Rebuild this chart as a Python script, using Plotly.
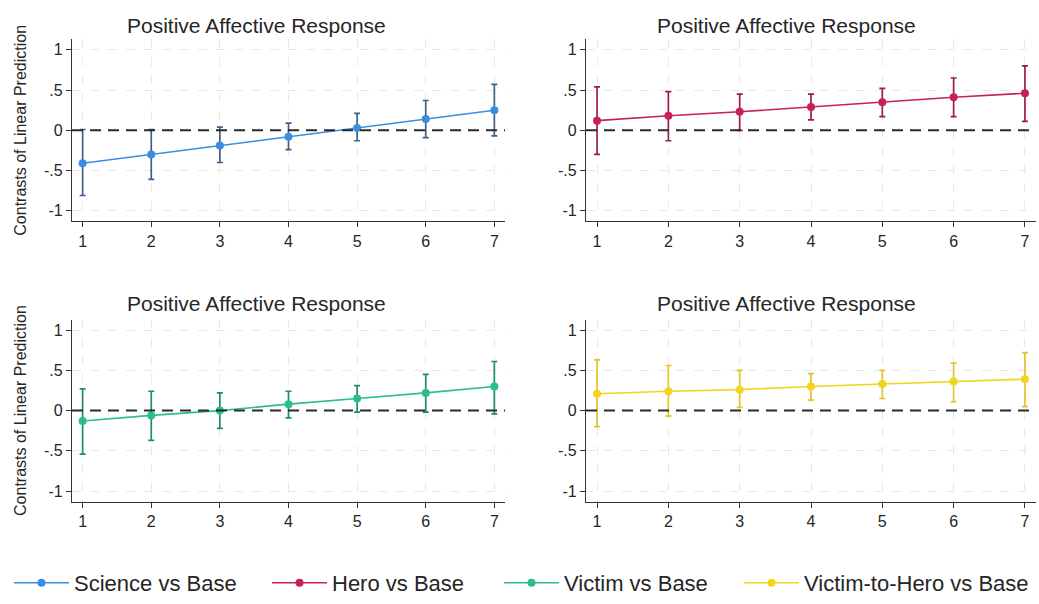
import plotly.graph_objects as go

# ---- data ----
x_levels = [1, 2, 3, 4, 5, 6, 7]
series_names = ["Science vs Base", "Hero vs Base", "Victim vs Base", "Victim-to-Hero vs Base"]
panel_title = "Positive Affective Response"
y_title = "Contrasts of Linear Prediction"
y_tick_vals = [-1, -0.5, 0, 0.5, 1]
y_tick_text = ["-1", "-.5", "0", ".5", "1"]

science_est = [-0.41, -0.30, -0.19, -0.08, 0.03, 0.14, 0.25]
science_lo = [-0.81, -0.61, -0.40, -0.24, -0.13, -0.09, -0.07]
science_hi = [0.01, 0.01, 0.04, 0.09, 0.21, 0.37, 0.57]

hero_est = [0.12, 0.18, 0.23, 0.29, 0.35, 0.41, 0.46]
hero_lo = [-0.30, -0.13, 0.00, 0.13, 0.17, 0.17, 0.11]
hero_hi = [0.54, 0.48, 0.45, 0.45, 0.52, 0.65, 0.80]

victim_est = [-0.13, -0.06, 0.00, 0.08, 0.15, 0.22, 0.30]
victim_lo = [-0.54, -0.37, -0.22, -0.09, -0.02, -0.02, -0.04]
victim_hi = [0.27, 0.24, 0.22, 0.24, 0.31, 0.45, 0.61]

vth_est = [0.21, 0.24, 0.26, 0.30, 0.33, 0.36, 0.39]
vth_lo = [-0.20, -0.07, 0.04, 0.13, 0.15, 0.11, 0.05]
vth_hi = [0.63, 0.56, 0.50, 0.46, 0.50, 0.59, 0.72]

# ---- styles ----
line_colors = ["#3a8ee0", "#c8205c", "#2bbd8e", "#f2d41f"]
bar_colors = ["#3f5f86", "#9c1d4c", "#1f8c6a", "#e2c52a"]
FONT = "Liberation Sans, Arial, Helvetica, sans-serif"
TXT = "#262626"

series = [
    (science_est, science_lo, science_hi),
    (hero_est, hero_lo, hero_hi),
    (victim_est, victim_lo, victim_hi),
    (vth_est, vth_lo, vth_hi),
]

W, H = 1039, 604
x_domains = [[72 / W, 505 / W], [586 / W, 1036 / W]]
y_domains = [[1 - 225 / H, 1 - 40 / H], [1 - 510 / H, 1 - 325 / H]]
legend_x_px = [9, 267, 499, 739]

fig = go.Figure()
layout = dict()
annotations = []
shapes = []

for i, (est, lo, hi) in enumerate(series):
    row, col = divmod(i, 2)
    n = "" if i == 0 else str(i + 1)
    xa, ya = "x" + n, "y" + n
    lg = "legend" + n
    fig.add_trace(go.Scatter(
        x=x_levels, y=est, xaxis=xa, yaxis=ya,
        mode="lines+markers", name=series_names[i], legend=lg,
        line=dict(color=line_colors[i], width=1.6),
        marker=dict(color=line_colors[i], size=8),
        error_y=dict(type="data", symmetric=False,
                     array=[h - e for h, e in zip(hi, est)],
                     arrayminus=[e - l for e, l in zip(est, lo)],
                     color=bar_colors[i], thickness=1.7, width=3),
    ))
    layout[lg] = dict(
        orientation="h", x=legend_x_px[i] / W, xanchor="left",
        y=11 / H, yanchor="middle", bgcolor="rgba(0,0,0,0)",
        font=dict(size=22, color=TXT, family=FONT), itemwidth=55,
    )
    layout["xaxis" + n] = dict(
        domain=x_domains[col], anchor=ya, range=[0.845, 7.155],
        tickvals=x_levels, ticks="outside", ticklen=5, tickcolor="#333",
        showline=True, linecolor="#333", linewidth=1.2,
        showgrid=True, gridcolor="#e8e8e8", griddash="dash", gridwidth=1,
        zeroline=False, tickfont=dict(size=16, color=TXT, family=FONT),
    )
    ydict = dict(
        domain=y_domains[row], anchor=xa, range=[-1.13, 1.13],
        tickvals=y_tick_vals, ticktext=y_tick_text,
        ticks="outside", ticklen=5, tickcolor="#333",
        showline=True, linecolor="#333", linewidth=1.2,
        showgrid=True, gridcolor="#e8e8e8", griddash="dash", gridwidth=1,
        zeroline=False, tickfont=dict(size=16, color=TXT, family=FONT),
    )
    if col == 0:
        ydict["title"] = dict(text=y_title, font=dict(size=16, color=TXT, family=FONT), standoff=13)
    layout["yaxis" + n] = ydict
    # reference line at zero
    shapes.append(dict(type="line", xref=xa + " domain", yref=ya,
                       x0=0, x1=1, y0=0, y1=0,
                       line=dict(color="#2a2a2a", width=2, dash="11px,7px"), layer="above"))
    # panel title
    annotations.append(dict(
        text=panel_title, xref="paper", yref="paper",
        x=(256 if col == 0 else 786) / W,
        y=1 - (26 if row == 0 else 309) / H,
        xanchor="center", yanchor="middle", showarrow=False,
        font=dict(size=21, color=TXT, family=FONT)))

fig.update_layout(
    **layout,
    width=W, height=H,
    margin=dict(l=0, r=0, t=0, b=0),
    paper_bgcolor="white", plot_bgcolor="white",
    font=dict(family=FONT, color=TXT),
    annotations=annotations, shapes=shapes,
    showlegend=True,
)

fig.write_html("out.html")
